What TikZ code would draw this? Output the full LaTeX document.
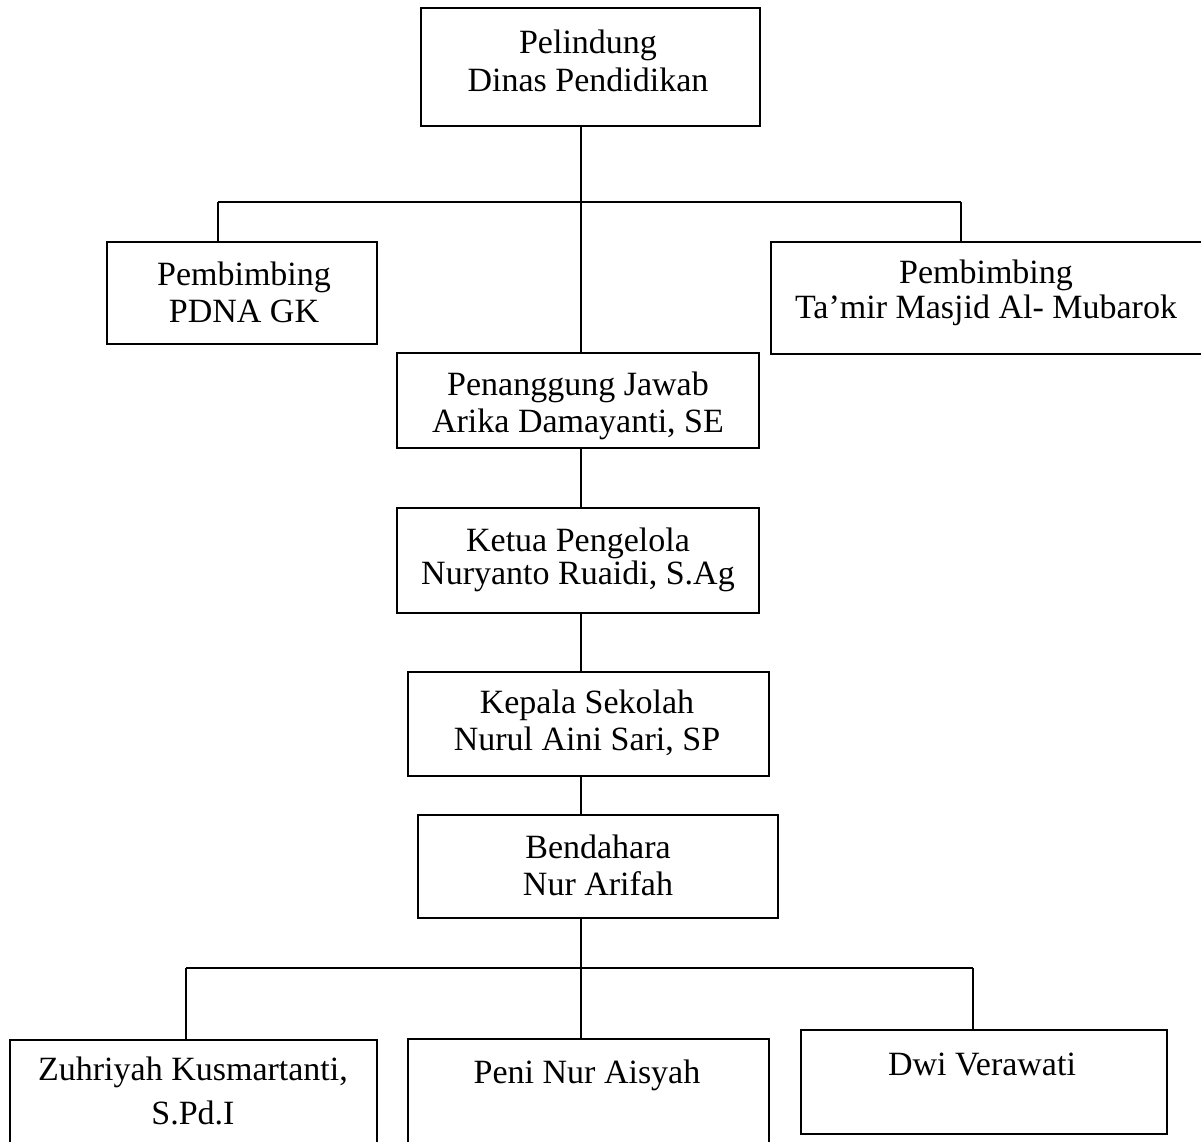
\documentclass[tikz,border=0pt]{standalone}
\usepackage{fontspec}
\setmainfont{Liberation Serif}
\tikzset{
  box/.style={draw=black, line width=2.5pt, inner sep=0pt, fill=none},
  txt/.style={anchor=base, inner sep=0pt, font=\fontsize{34}{38}\selectfont, text=black},
  conn/.style={draw=black, line width=2.4pt}
}
\begin{document}
\begin{tikzpicture}[x=1pt,y=-1pt]
\useasboundingbox (0,0) rectangle (1201,1141);
\clip (0,0) rectangle (1201,1141);
\fill[white] (0,0) rectangle (1201,1141);
% boxes
\node[box, minimum width=339pt, minimum height=118pt] (pel) at (590.5,67) {};
\node[box, minimum width=270pt, minimum height=102pt] (pdna) at (242,293) {};
\node[box, minimum width=444pt, minimum height=112pt] (tamir) at (993,298) {};
\node[box, minimum width=362pt, minimum height=95pt] (pj) at (578,400.5) {};
\node[box, minimum width=362pt, minimum height=105pt] (ketua) at (578,560.5) {};
\node[box, minimum width=361pt, minimum height=104pt] (kepala) at (588.5,724) {};
\node[box, minimum width=360pt, minimum height=103pt] (bend) at (598,866.5) {};
\node[box, minimum width=367pt, minimum height=110pt] (zuh) at (193.5,1095) {};
\node[box, minimum width=361pt, minimum height=111pt] (peni) at (588.5,1094.5) {};
\node[box, minimum width=366pt, minimum height=104pt] (dwi) at (984,1082) {};
% texts
\node[txt] (pel1) at (588,53) {Pelindung};
\node[txt] (pel2) at (588,91) {Dinas Pendidikan};
\node[txt] (pdna1) at (244,285) {Pembimbing};
\node[txt] (pdna2) at (244,322) {PDNA GK};
\node[txt] (tamir1) at (986,283) {Pembimbing};
\node[txt] (tamir2) at (986,318) {Ta’mir Masjid Al- Mubarok};
\node[txt] (pj1) at (578,395) {Penanggung Jawab};
\node[txt] (pj2) at (578,432) {Arika Damayanti, SE};
\node[txt] (ketua1) at (578,551) {Ketua Pengelola};
\node[txt] (ketua2) at (578,584) {Nuryanto Ruaidi, S.Ag};
\node[txt] (kepala1) at (587,713) {Kepala Sekolah};
\node[txt] (kepala2) at (587,750) {Nurul Aini Sari, SP};
\node[txt] (bend1) at (598,858) {Bendahara};
\node[txt] (bend2) at (598,895) {Nur Arifah};
\node[txt] (zuh1) at (193,1080) {Zuhriyah Kusmartanti,};
\node[txt] (zuh2) at (193,1124) {S.Pd.I};
\node[txt] (peni1) at (587,1083) {Peni Nur Aisyah};
\node[txt] (dwi1) at (982,1075) {Dwi Verawati};
% connectors
\coordinate (trunk) at (581,0);
\coordinate (jl) at (218,202);
\coordinate (jr) at (961,202);
\coordinate (kl) at (186,968);
\coordinate (kr) at (973,968);
\draw[conn] (pel.south -| trunk) -- (pj.north -| trunk);
\draw[conn] (jl) -- (jr);
\draw[conn] (jl) -- (jl |- pdna.north);
\draw[conn] (jr) -- (jr |- tamir.north);
\draw[conn] (pj.south -| trunk) -- (ketua.north -| trunk);
\draw[conn] (ketua.south -| trunk) -- (kepala.north -| trunk);
\draw[conn] (kepala.south -| trunk) -- (bend.north -| trunk);
\draw[conn] (bend.south -| trunk) -- (peni.north -| trunk);
\draw[conn] (kl) -- (kr);
\draw[conn] (kl) -- (kl |- zuh.north);
\draw[conn] (kr) -- (kr |- dwi.north);
\end{tikzpicture}
\end{document}
